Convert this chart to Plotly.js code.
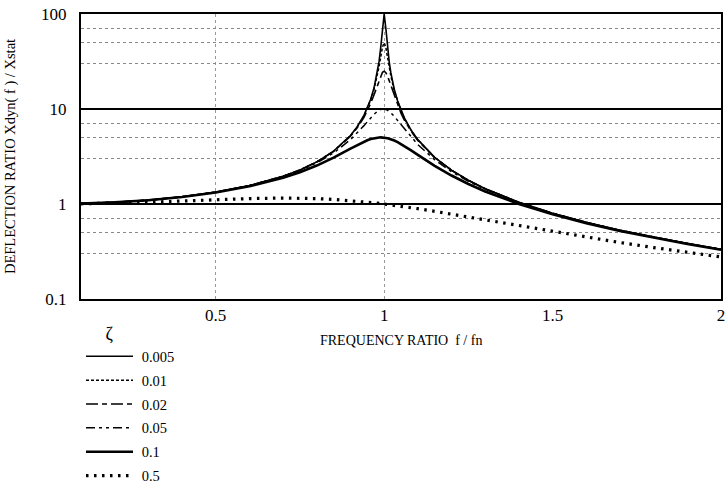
<!DOCTYPE html>
<html>
<head>
<meta charset="utf-8">
<script src="https://cdn.plot.ly/plotly-3.0.1.min.js"></script>
<style>html,body{margin:0;padding:0;background:#fff;}#chart{width:728px;height:485px;}</style>
</head>
<body>
<div id="chart"></div>
<script>
// Frequency ratio f/fn (x values)
const ratio = [0.1,0.2,0.3,0.4,0.5,0.6,0.7,0.75,0.8,0.85,0.9,0.92,0.94,0.95,0.96,0.97,0.98,0.985,0.99,0.995,1.0,1.005,1.01,1.015,1.02,1.03,1.04,1.05,1.06,1.08,1.1,1.15,1.2,1.25,1.3,1.4,1.5,1.6,1.7,1.8,1.9,2.0];

// Deflection ratio Xdyn(f)/Xstat for each damping ratio
const zeta0005 = [1.010,1.042,1.099,1.190,1.333,1.562,1.961,2.286,2.778,3.602,5.257,6.499,8.563,10.21,12.66,16.70,24.51,31.89,44.99,70.98,100,70.45,44.46,31.36,24.00,16.19,12.16,9.706,8.061,5.997,4.755,3.099,2.272,1.777,1.449,1.042,0.800,0.641,0.529,0.446,0.383,0.333];
const zeta001 = [1.010,1.042,1.099,1.190,1.333,1.562,1.960,2.284,2.775,3.597,5.240,6.464,8.481,10.07,12.39,16.08,22.63,28.01,35.62,44.92,50,44.52,35.09,27.47,22.10,15.55,11.87,9.558,7.974,5.960,4.736,3.093,2.269,1.776,1.448,1.041,0.800,0.641,0.529,0.446,0.383,0.333];
const zeta002 = [1.010,1.042,1.099,1.190,1.333,1.561,1.958,2.280,2.767,3.577,5.171,6.331,8.175,9.556,11.45,14.15,17.95,20.25,22.57,24.37,25,24.14,22.16,19.76,17.42,13.60,10.92,9.028,7.653,5.817,4.661,3.070,2.259,1.771,1.445,1.040,0.799,0.641,0.529,0.446,0.383,0.333];
const zeta005 = [1.010,1.041,1.098,1.189,1.330,1.556,1.943,2.253,2.712,3.446,4.757,5.585,6.684,7.346,8.068,8.804,9.461,9.718,9.903,10.0,10.0,9.901,9.711,9.443,9.115,8.357,7.565,6.815,6.141,5.041,4.218,2.921,2.193,1.736,1.424,1.031,0.794,0.638,0.527,0.445,0.382,0.333];
const zeta01 = [1.010,1.041,1.097,1.185,1.322,1.536,1.891,2.162,2.538,3.073,3.821,4.172,4.522,4.683,4.822,4.931,5.001,5.019,5.025,5.019,5.0,4.969,4.926,4.872,4.809,4.655,4.476,4.279,4.075,3.668,3.288,2.525,1.995,1.625,1.356,1.000,0.778,0.628,0.521,0.441,0.379,0.330];
const zeta05 = [1.005,1.020,1.044,1.075,1.109,1.140,1.155,1.152,1.140,1.118,1.087,1.072,1.056,1.047,1.038,1.029,1.020,1.015,1.010,1.005,1.0,0.995,0.990,0.985,0.980,0.969,0.959,0.948,0.937,0.915,0.893,0.837,0.782,0.730,0.680,0.589,0.512,0.448,0.393,0.348,0.310,0.277];

const seriesNames = ['0.005','0.01','0.02','0.05','0.1','0.5'];
const yTickVals = [0.1, 1, 10, 100];
const yTickText = ['0.1', '1', '10', '100'];
const xTickVals = [0.5, 1, 1.5, 2];
const xTickText = ['0.5', '1', '1.5', '2'];
const xGridVals = [0.5, 1];
const yMinorGrid = [0.3, 0.5, 0.7, 3, 5, 7, 30, 50, 70];
const xAxisTitle = 'FREQUENCY RATIO\u00a0\u00a0f / fn';

const serif = '"Liberation Serif", "Times New Roman", serif';
const seriesY = [zeta0005, zeta001, zeta002, zeta005, zeta01, zeta05];
const styles = [
  {dash: 'solid', width: 1.6},
  {dash: '3px,2px', width: 1.5},
  {dash: '12px,4px,5px,4px', width: 1.6},
  {dash: '9px,4px,3px,4px,3px,4px', width: 1.5},
  {dash: 'solid', width: 2.6},
  {dash: '2.5px,5.5px', width: 3.2}
];

const traces = seriesY.map((ys, i) => ({
  type: 'scatter',
  mode: 'lines',
  x: ratio,
  y: ys,
  name: '\u00a0' + seriesNames[i],
  legendgroup: 'g' + i,
  line: {color: '#000', width: styles[i].width, dash: styles[i].dash},
  hoverinfo: 'skip'
}));

const layout = {
  width: 728,
  height: 485,
  margin: {l: 81, r: 7, t: 14, b: 186, pad: 0, autoexpand: false},
  paper_bgcolor: '#fff',
  plot_bgcolor: '#fff',
  font: {family: serif, color: '#000', size: 14},
  showlegend: true,
  legend: {
    x: 0, xanchor: 'left', y: -0.063, yanchor: 'top',
    font: {family: serif, size: 14.5, color: '#000'},
    title: {text: '\u00a0\u00a0\u00a0\u00a0\u00a0ζ', font: {family: serif, size: 18, color: '#000'}},
    itemwidth: 47,
    tracegroupgap: 2,
    bgcolor: 'rgba(0,0,0,0)',
    borderwidth: 0
  },
  annotations: [{
    text: xAxisTitle, xref: 'paper', yref: 'paper', x: 0.5, y: -0.144,
    xanchor: 'center', yanchor: 'middle', showarrow: false,
    font: {family: serif, size: 14, color: '#000'}
  }],
  xaxis: {
    range: [0.1, 2.0],
    tickmode: 'array', tickvals: xTickVals, ticktext: xTickText,
    tickfont: {family: serif, size: 17, color: '#000'},
    ticks: '', ticklen: 0, ticklabelstandoff: 0,
    showgrid: false,
    minor: {tickmode: 'array', tickvals: xGridVals, showgrid: true, gridcolor: '#999', griddash: 'dot', gridwidth: 1, ticks: ''},
    showline: true, linecolor: '#000', linewidth: 2, mirror: true,
    zeroline: false,
    automargin: false
  },
  yaxis: {
    type: 'log',
    range: [-1, 2],
    tickmode: 'array', tickvals: yTickVals, ticktext: yTickText,
    tickfont: {family: serif, size: 17, color: '#000'},
    ticks: '', ticklabelstandoff: 9,
    showgrid: true, gridcolor: '#000', gridwidth: 2,
    minor: {tickmode: 'array', tickvals: yMinorGrid, showgrid: true, gridcolor: '#888', griddash: 'dot', gridwidth: 1, ticks: ''},
    showline: true, linecolor: '#000', linewidth: 2, mirror: true,
    zeroline: false,
    title: {text: 'DEFLECTION RATIO Xdyn( f ) / Xstat', font: {family: serif, size: 14.5, color: '#000'}, standoff: 22},
    automargin: true
  }
};

Plotly.newPlot('chart', traces, layout, {staticPlot: true, displayModeBar: false});
</script>
</body>
</html>
